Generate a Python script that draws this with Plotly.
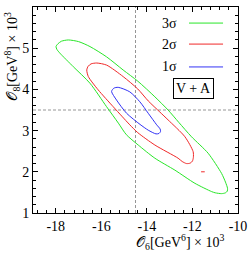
import plotly.graph_objects as go

# contour points (x = O6 x 1e3, y = O8 x 1e3)
green_x = [-17.99, -17.9, -17.75, -17.45, -17.0, -16.5, -15.77, -15.04, -14.4, -13.65, -13.07, -12.6,
           -12.04, -11.31, -10.72, -10.55, -10.46, -10.47, -10.55, -10.72, -11.0, -11.16, -11.89,
           -12.77, -13.65, -14.38, -14.9, -15.25, -15.77, -16.5, -17.23, -17.82, -17.95, -17.99]
green_y = [5.04, 5.11, 5.17, 5.20, 5.16, 5.04, 4.79, 4.47, 4.20, 3.82, 3.50, 3.20,
           2.85, 2.45, 1.96, 1.75, 1.60, 1.53, 1.49, 1.47, 1.49, 1.52, 1.72,
           2.04, 2.33, 2.65, 2.90, 3.18, 3.58, 4.15, 4.55, 4.88, 4.97, 5.04]

red_x = [-16.64, -16.58, -16.45, -16.2, -15.77, -15.04, -14.4, -13.94, -13.43, -13.07, -12.33,
         -11.97, -11.96, -12.0, -12.1, -12.26, -12.45, -12.63, -13.65, -14.4, -14.75, -15.1,
         -15.48, -16.14, -16.57, -16.64]
red_y = [4.47, 4.56, 4.62, 4.64, 4.59, 4.31, 4.01, 3.72, 3.45, 3.26, 2.85,
         2.49, 2.35, 2.26, 2.21, 2.20, 2.25, 2.33, 2.65, 2.95, 3.14, 3.35,
         3.58, 3.99, 4.31, 4.47]

red_island_x = [-11.62, -11.46]
red_island_y = [2.0, 2.0]

blue_x = [-15.55, -15.45, -15.26, -14.75, -14.31, -13.94, -13.57, -13.42, -13.40, -13.47, -13.6,
          -13.94, -14.3, -14.89, -15.33, -15.55]
blue_y = [3.95, 4.03, 4.05, 3.94, 3.70, 3.42, 3.14, 3.04, 2.98, 2.93, 2.92,
          3.01, 3.15, 3.42, 3.74, 3.95]

central_x = -14.5
central_y = 3.5

x_ticks = [-18, -16, -14, -12, -10]
x_ticklabels = ["-18", "-16", "-14", "-12", "-10"]
y_ticks = [1, 2, 3, 4, 5, 6]
y_ticklabels = ["1", "2", "3", "4", "5", "6"]

legend_labels = ["3σ", "2σ", "1σ"]
box_label = "V + A"

GREEN = "rgb(40,230,40)"
RED = "rgb(240,40,40)"
BLUE = "rgb(50,50,245)"
FONT = "Liberation Serif"

fig = go.Figure()
fig.add_trace(go.Scatter(x=green_x, y=green_y, mode="lines", name=legend_labels[0],
                         line=dict(color=GREEN, width=1, shape="spline", smoothing=0.7)))
fig.add_trace(go.Scatter(x=red_x, y=red_y, mode="lines", name=legend_labels[1],
                         line=dict(color=RED, width=1, shape="spline", smoothing=0.7)))
fig.add_trace(go.Scatter(x=red_island_x, y=red_island_y, mode="lines", showlegend=False,
                         line=dict(color=RED, width=1)))
fig.add_trace(go.Scatter(x=blue_x, y=blue_y, mode="lines", name=legend_labels[2],
                         line=dict(color=BLUE, width=1, shape="spline", smoothing=0.7)))

# dashed reference lines
fig.add_shape(type="line", xref="x", yref="paper", x0=central_x, x1=central_x, y0=0, y1=1,
              line=dict(color="rgb(150,150,150)", width=1, dash="3px,2px"), layer="below")
fig.add_shape(type="line", xref="paper", yref="y", x0=0, x1=1, y0=central_y, y1=central_y,
              line=dict(color="rgb(150,150,150)", width=1, dash="3px,2px"), layer="below")

# custom legend: text then line sample
leg_colors = [GREEN, RED, BLUE]
leg_y = [0.922, 0.820, 0.709]
for lab, col, ly in zip(legend_labels, leg_colors, leg_y):
    fig.add_annotation(xref="paper", yref="paper", x=0.712, y=ly, text=lab, showarrow=False,
                       xanchor="right", yanchor="middle", font=dict(family=FONT, size=14, color="black"))
    fig.add_shape(type="line", xref="paper", yref="paper", x0=0.761, x1=0.927, y0=ly, y1=ly,
                  line=dict(color=col, width=1))

fig.add_annotation(xref="paper", yref="paper", x=0.782, y=0.602, text=box_label, showarrow=False,
                   xanchor="center", yanchor="middle", font=dict(family=FONT, size=14, color="black"),
                   bordercolor="black", borderwidth=1, borderpad=2, bgcolor="white")

# axis titles
fig.add_annotation(xref="paper", yref="paper", x=0.717, y=-0.143,
                   text="𝒪<sub>6</sub>[GeV<sup>6</sup>] × 10<sup>3</sup>", showarrow=False,
                   xanchor="center", yanchor="middle", font=dict(family=FONT, size=14, color="black"))
fig.add_annotation(xref="paper", yref="paper", x=-0.1, y=0.757,
                   text="𝒪<sub>8</sub>[GeV<sup>8</sup>] × 10<sup>3</sup>", showarrow=False, textangle=-90,
                   xanchor="center", yanchor="middle", font=dict(family=FONT, size=14, color="black"))

axis_common = dict(showgrid=False, zeroline=False, showline=True, linecolor="black", linewidth=1,
                   mirror="allticks", ticks="inside", ticklen=5, tickcolor="black", tickwidth=1,
                   automargin=False,
                   tickfont=dict(family=FONT, size=14, color="black"))
fig.update_xaxes(range=[-19, -10], tickvals=x_ticks, ticktext=x_ticklabels,
                 minor=dict(dtick=0.4, tick0=-18, ticks="inside", ticklen=3, tickcolor="black"),
                 **axis_common)
fig.update_yaxes(range=[1, 6], tickvals=y_ticks, ticktext=y_ticklabels,
                 minor=dict(dtick=0.2, tick0=1, ticks="inside", ticklen=3, tickcolor="black"),
                 **axis_common)

fig.update_layout(width=249, height=253, margin=dict(l=33, r=11, t=7, b=40, autoexpand=False),
                  plot_bgcolor="white", paper_bgcolor="white", showlegend=False)

fig.write_html("out.html", config={"displayModeBar": False},
               post_script="document.body.style.margin='0';document.body.style.overflow='hidden';")
